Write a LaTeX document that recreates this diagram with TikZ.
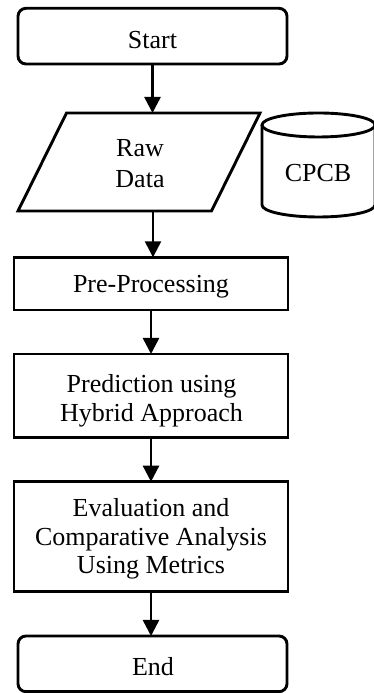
\documentclass[tikz,border=0pt]{standalone}
\usepackage{fontspec}
\setmainfont{Liberation Serif}
\usetikzlibrary{arrows.meta}
\begin{document}
\begin{tikzpicture}[x=1pt,y=1pt,
  line width=2.9pt,
  every node/.style={inner sep=0pt, outer sep=0pt},
  box/.style={draw, minimum width=274pt, line width=2.9pt},
  term/.style={draw, rounded corners=8pt, minimum width=269pt, minimum height=55.7pt, line width=2.9pt},
  txt/.style={font=\fontsize{26}{28.5}\selectfont, align=center},
  arr/.style={-{Triangle[width=16pt,length=16pt]}, line width=2.5pt}]
\useasboundingbox (0,0) rectangle (374,693);

% Start
\node[term] (start) at (152.5,656.85) {};
\node[txt, anchor=base] (startT) at (152.5,644.7) {Start};

% Raw data (parallelogram)
\draw[line join=miter] (18,482) -- (211.5,482) -- (260,580) -- (66.5,580) -- cycle;
\coordinate (rawT) at (153,580);
\coordinate (rawB) at (153,482);
\node[txt, font=\fontsize{26}{31}\selectfont] (raw) at (140,529.1) {Raw\\Data};

% CPCB cylinder
\draw (262,568) -- (262,488) arc[start angle=180, end angle=360, x radius=56.5, y radius=12] -- (375,568);
\draw (318.5,568) ellipse[x radius=56.5, y radius=12];
\node[txt, anchor=base] (cpcb) at (318,511.3) {CPCB};

% Pre-processing
\node[box, minimum height=52.7pt] (pre) at (151,409.35) {};
\node[txt, anchor=base] (preT) at (151,400) {Pre-Processing};

% Prediction
\node[box, minimum height=83.3pt] (pred) at (151,297.35) {};
\node[txt] (predT) at (151.5,292.4) {Prediction using\\Hybrid Approach};

% Evaluation
\node[box, minimum height=110pt] (eval) at (151,156.3) {};
\node[txt] (evalT) at (151,153.75) {Evaluation and\\Comparative Analysis\\Using Metrics};

% End
\node[term] (end) at (152.5,29.15) {};
\node[txt, anchor=base] (endT) at (153,17) {End};

% Connectors
\draw[arr] (start.south) -- (start.south |- rawT);
\draw[arr] (rawB) -- (rawB |- pre.north);
\draw[arr] (pre.south) -- (pred.north);
\draw[arr] (pred.south) -- (eval.north);
\draw[arr] (eval.south) -- (eval.south |- end.north);
\end{tikzpicture}
\end{document}
